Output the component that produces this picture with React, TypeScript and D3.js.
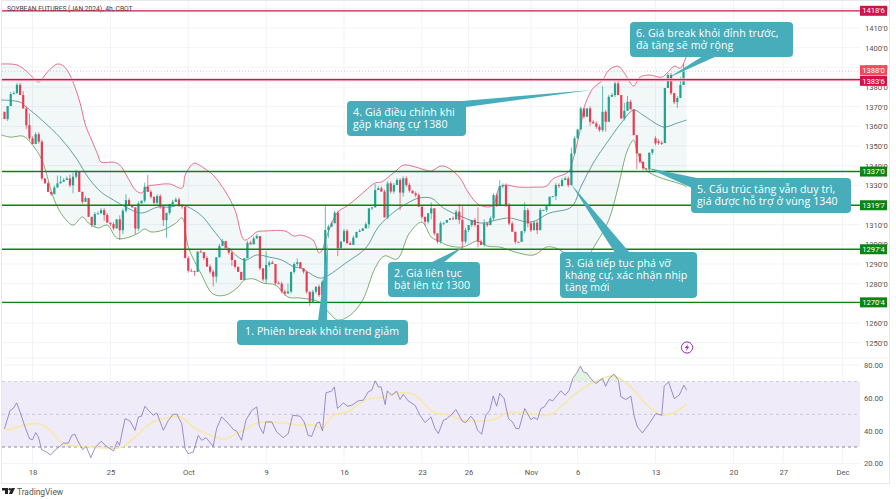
import React, { useEffect, useRef } from 'react';
import * as d3 from 'd3';

// prices in cents, one close per 4h bar
const closes = [
  1363.7, 1370.3, 1376.4, 1376.8, 1381.1, 1375.9, 1369.1, 1360.6, 1353.9, 1351,
  1356, 1352.2, 1333.5, 1331, 1326.7, 1325.5, 1328.9, 1331, 1331.8, 1332.7,
  1333.5, 1330, 1334.4, 1336.9, 1326.7, 1321.6, 1323.5, 1314, 1309.8, 1315.4,
  1315.7, 1317.4, 1314.9, 1311, 1310.3, 1308.1, 1312.7, 1307.2, 1317.1, 1322.5,
  1320, 1318.8, 1308, 1320.8, 1322.2, 1329.3, 1326.7, 1324.2, 1321.1, 1324.5,
  1319.1, 1312.3, 1316, 1320.5, 1321.6, 1322.8, 1320, 1319.1, 1293, 1286.6,
  1286.5, 1286, 1296.3, 1296, 1293, 1288.7, 1286.1, 1283.6, 1293.4, 1299.2,
  1301.7, 1298, 1295.8, 1292, 1288.6, 1286, 1281.9, 1292.9, 1300.8, 1300,
  1303, 1304.2, 1287.8, 1282.2, 1289.5, 1290.7, 1290, 1280.2, 1280, 1276,
  1275, 1276, 1286, 1290, 1290.9, 1287.8, 1286.1, 1275.9, 1270.8, 1275.9,
  1278.5, 1274.2, 1281, 1307.3, 1309, 1310.7, 1316.1, 1298, 1301.4, 1306.8,
  1300.5, 1299.7, 1303.4, 1306.3, 1306.8, 1308.1, 1310.2, 1318.3, 1318.8, 1327.6,
  1328.5, 1326.8, 1313.7, 1331, 1326.8, 1330.2, 1332.7, 1326.3, 1333.6, 1330.2,
  1327.3, 1325.9, 1325, 1319.2, 1314, 1311.5, 1315.8, 1318.3, 1305.6, 1301.4,
  1310.7, 1311, 1312.4, 1313.2, 1312.7, 1316.6, 1312.4, 1301.4, 1307.3, 1309.8,
  1312.4, 1309.8, 1301.4, 1299.7, 1310.7, 1309.8, 1313.2, 1325, 1320, 1329.6,
  1330, 1320, 1310.6, 1306.4, 1301.3, 1301.2, 1306.7, 1317.4, 1310.6, 1307.2,
  1311, 1307.2, 1317.4, 1317.5, 1319.4, 1324.2, 1324.5, 1330.1, 1329.6, 1332.7,
  1333.5, 1330.1, 1346.2, 1353.9, 1358.4, 1369.1, 1364.9, 1369.1, 1362.3, 1361.5,
  1359.8, 1358.1, 1367.4, 1362.3, 1375, 1375.9, 1381.8, 1375.9, 1364, 1367.9,
  1372.5, 1368.6, 1355.5, 1346.2, 1342, 1338.6, 1338.1, 1346.6, 1348.4, 1351.3,
  1351.6, 1351.5, 1379.5, 1386.1, 1376.9, 1372.3, 1374.4, 1381, 1388,
];
// bars that did not open on the previous close
const openGaps: Record<number, number> = { 0: 1367.4, 209: 1353.9, 210: 1352.4 };
const wicksUp = [
  0, 0, 1, 1, 1, 1, 2, 1, 6, 1,
  1, 1, 1, 0, 1, 0, 1, 4, 3, 1,
  1, 2, 2, 1, 0, 0, 1, 0, 0, 1,
  1, 1, 1, 1, 0, 1, 0, 2, 1, 3,
  1, 0, 0, 1, 0, 2, 6, 1, 0, 1,
  1, 1, 0, 0, 1, 1, 1, 0, 0, 1,
  1, 0, 0, 1, 0, 1, 1, 1, 0, 1,
  1, 0, 0, 1, 0, 0, 0, 0, 1, 1,
  1, 1, 0, 0, 7, 1, 1, 0, 1, 1,
  1, 4, 0, 1, 2, 0, 0, 0, 0, 1,
  0, 1, 1, 12, 1, 1, 1, 1, 0, 1,
  1, 1, 1, 0, 1, 0, 1, 0, 0, 3,
  1, 1, 1, 1, 1, 1, 1, 1, 1, 1,
  1, 0, 1, 1, 0, 0, 0, 3, 0, 0,
  1, 0, 0, 0, 1, 1, 4, 7, 1, 0,
  0, 1, 9, 1, 2, 0, 1, 1, 1, 3,
  1, 1, 1, 1, 0, 0, 0, 4, 1, 1,
  1, 1, 1, 0, 0, 0, 0, 1, 1, 1,
  1, 1, 3, 1, 0, 1, 0, 0, 1, 1,
  1, 1, 13, 1, 1, 1, 1, 2, 0, 4,
  3, 1, 0, 0, 0, 0, 0, 0, 0, 1,
  1, 1, 0, 1, 1, 0, 1, 4, 4,
];
const wicksDown = [
  0, 1, 0, 0, 0, 0, 0, 2, 1, 0,
  0, 1, 1, 0, 0, 1, 0, 0, 0, 0,
  0, 1, 4, 1, 0, 1, 0, 0, 1, 1,
  0, 0, 3, 0, 1, 1, 0, 5, 2, 1,
  0, 0, 3, 1, 0, 1, 0, 1, 1, 1,
  1, 3, 9, 1, 1, 0, 1, 1, 0, 1,
  0, 2, 0, 0, 1, 0, 1, 5, 3, 0,
  0, 0, 1, 3, 1, 0, 0, 0, 0, 0,
  0, 0, 1, 1, 2, 1, 0, 1, 0, 1,
  1, 0, 1, 1, 1, 0, 1, 1, 2, 0,
  1, 1, 0, 1, 4, 0, 0, 4, 0, 0,
  0, 0, 0, 0, 0, 0, 0, 2, 1, 0,
  0, 0, 0, 1, 1, 1, 0, 9, 2, 1,
  1, 0, 1, 0, 1, 2, 1, 3, 1, 1,
  1, 1, 0, 0, 0, 0, 2, 4, 1, 1,
  1, 1, 3, 0, 1, 1, 0, 1, 1, 0,
  1, 1, 1, 0, 1, 0, 0, 1, 2, 1,
  0, 2, 0, 0, 1, 0, 0, 2, 1, 0,
  0, 1, 0, 1, 0, 0, 1, 0, 2, 0,
  1, 1, 1, 5, 0, 0, 1, 0, 0, 1,
  0, 0, 0, 8, 1, 1, 0, 1, 1, 1,
  1, 1, 0, 0, 1, 1, 3, 0, 0,
];

// bollinger bands, read at the bends
const upperBars = [-1, 4, 7, 9, 11, 13, 15, 17, 19, 21, 24, 26, 28, 30, 31, 35, 37, 40, 42, 44, 46, 48, 53, 57, 58, 60, 61, 64, 67, 71, 74, 77, 79, 81, 84, 90, 93, 95, 99, 101, 102, 103, 107, 110, 115, 119, 121, 124, 126, 128, 132, 134, 137, 140, 142, 146, 149, 152, 155, 157, 159, 161, 165, 170, 174, 176, 181, 182, 185, 186, 188, 189, 192, 194, 197, 199, 202, 204, 207, 211, 213, 215, 217, 219];
const upperBand = [1391.7, 1391.2, 1388.1, 1385, 1382.5, 1386.1, 1389.6, 1391.7, 1390.6, 1386.1, 1373.4, 1360.6, 1353, 1345.4, 1341.8, 1341.8, 1340.3, 1332.7, 1327.6, 1326.1, 1329.6, 1330.1, 1330.7, 1328.6, 1335.2, 1340.3, 1341.3, 1338.8, 1335.2, 1326.6, 1317.4, 1302.2, 1303.7, 1306.3, 1306.8, 1306.8, 1304.2, 1304.7, 1302.2, 1295.6, 1297.1, 1302.2, 1316.4, 1319.5, 1326.1, 1331.2, 1331.7, 1335.2, 1337.8, 1340.3, 1339.3, 1338.3, 1337.3, 1339.8, 1339.3, 1334.2, 1326.1, 1320.5, 1319, 1320, 1329.1, 1330.1, 1329.1, 1329.1, 1329.6, 1333.2, 1336.8, 1340.3, 1359.6, 1369.3, 1376.9, 1379.5, 1383.5, 1388.6, 1390.6, 1387.1, 1380.5, 1385, 1386.1, 1385, 1387.6, 1390.6, 1389.6, 1396.2];
const middleBars = [-1, 5, 7, 12, 18, 23, 27, 31, 35, 39, 44, 49, 53, 57, 63, 67, 71, 77, 81, 85, 89, 93, 95, 101, 103, 110, 116, 120, 125, 130, 133, 137, 141, 147, 153, 158, 162, 169, 175, 182, 185, 189, 194, 198, 202, 205, 210, 212, 216, 219];
const middleBand = [1373.4, 1372.3, 1369.8, 1363.2, 1354, 1343.9, 1333.7, 1326.6, 1322.5, 1318.9, 1315.9, 1318.9, 1318.9, 1320, 1314.9, 1307.3, 1299.6, 1292, 1294.6, 1293.5, 1292, 1288.5, 1288, 1282.9, 1283.4, 1291, 1298.1, 1308.8, 1316.4, 1321.5, 1323.5, 1323.5, 1318.4, 1313.9, 1310.8, 1312.4, 1313.4, 1311.3, 1315.9, 1319, 1329.1, 1341.3, 1353, 1361.7, 1368.3, 1365.7, 1360.6, 1359.6, 1361.7, 1363.2];
const lowerBars = [-1, 2, 6, 9, 12, 16, 19, 22, 25, 27, 30, 33, 36, 39, 43, 45, 47, 51, 55, 57, 59, 63, 67, 71, 75, 77, 80, 83, 87, 91, 95, 101, 104, 107, 111, 115, 119, 122, 126, 130, 134, 137, 140, 142, 147, 152, 155, 159, 165, 170, 174, 177, 182, 186, 190, 194, 197, 200, 202, 203, 206, 210, 215, 218, 219];
const lowerBand = [1355.6, 1354.5, 1355, 1350.5, 1342.9, 1322.5, 1313.9, 1309.8, 1313.9, 1310.8, 1308.3, 1309.8, 1303.2, 1303.2, 1305.7, 1307.8, 1306.3, 1307.3, 1310.8, 1313.4, 1298.6, 1285.4, 1274.7, 1274.2, 1278.3, 1281.8, 1282.4, 1280.3, 1279.3, 1273.2, 1272.7, 1270.7, 1265.6, 1261.5, 1264, 1271.7, 1288, 1294.1, 1292.5, 1305.7, 1311.3, 1303.7, 1301.2, 1299.6, 1298.6, 1301.7, 1299.1, 1298.6, 1295.6, 1294.6, 1298.6, 1298.1, 1293.5, 1292, 1300.7, 1312.4, 1329.1, 1347.9, 1353, 1347.9, 1337.8, 1334.2, 1331.7, 1330.1, 1329.1];

const rsiBars = [0, 1.8, 2.8, 3.9, 5, 6.6, 8, 9, 10, 10.9, 11.9, 13.5, 14.8, 16.2, 17.8, 18.9, 20.5, 21.6, 22.6, 23.7, 25.1, 26.2, 27.7, 29.1, 31, 32.8, 35, 36.2, 36.9, 38.7, 40.3, 41.9, 43, 44, 45.1, 46.2, 47.8, 48.9, 51, 52.6, 54.2, 55.3, 56.9, 58, 59, 60.6, 62.2, 63.3, 64.7, 67, 68.1, 69.7, 71.9, 73.5, 74.5, 76.1, 77.5, 79.4, 81, 81.8, 83.1, 83.9, 85.8, 87.4, 89.5, 91.1, 92.5, 94.9, 96.2, 97.5, 98.6, 100.2, 101.1, 102.1, 103.2, 105, 105.9, 106.9, 108.8, 110.1, 111.5, 113.6, 115.2, 116.8, 117.9, 119, 120, 120.9, 122.2, 122.9, 124.3, 125.9, 127, 128, 129.6, 131.8, 133.4, 135, 136.9, 138.2, 139.3, 140.9, 142, 143.3, 144.9, 147, 148.1, 149.7, 150.8, 151.9, 153.2, 154.5, 155.8, 156.9, 158, 159, 160.4, 161.8, 163.1, 164.2, 165.2, 167, 169, 170, 171.1, 172.2, 173.3, 174.9, 176, 178.6, 180, 181.3, 182.4, 183.6, 184.9, 185.8, 186.9, 188.2, 189.9, 192, 193, 194.1, 195.7, 197.1, 197.9, 199.5, 201.1, 202.2, 203.2, 204.8, 207, 209.1, 211, 211.8, 213.2, 215, 216.6, 218.1, 219];
const rsiValues = [41.2, 52.4, 53.5, 56.9, 51.4, 42.2, 35.1, 34.5, 38.8, 36.1, 28.4, 26.9, 25.1, 28, 30.4, 32.4, 32.4, 37.1, 37.8, 33.1, 28.4, 30.4, 23.5, 29.6, 33.5, 30.4, 27.6, 33.5, 31, 47.3, 45.9, 40.2, 48.4, 48.8, 54.9, 52.4, 49.4, 50.8, 40.2, 46.3, 50, 50, 44.3, 29, 25.9, 26.9, 37.1, 34.1, 35.7, 30.4, 41.2, 48.4, 44.3, 40.6, 39.8, 34.1, 46.3, 52.4, 54.5, 42.7, 38.2, 45.3, 45.3, 39.2, 35.7, 38.2, 49.4, 48.8, 45.3, 37.1, 36.5, 44.3, 45.3, 39.8, 63.1, 64.1, 66.7, 53.5, 56.9, 54.9, 55.5, 58.2, 58.6, 63.7, 64.7, 70.4, 66.7, 66.7, 55.9, 64.3, 61.6, 64.1, 59, 62.2, 58.2, 55.5, 49.4, 44.9, 48.4, 41.2, 38.2, 46.3, 47.3, 49.4, 52.9, 45.7, 44.9, 48.8, 46.3, 40.2, 37.8, 49.4, 52.4, 61.2, 54.9, 62.7, 59.6, 47.3, 45.3, 41.2, 41.2, 53.5, 46.7, 48, 46.7, 53.5, 54.5, 59, 58.2, 64.3, 61.6, 64.7, 71.8, 74.9, 79.4, 75.9, 75.3, 71.8, 68.8, 71.8, 67.1, 71.8, 74.5, 70.8, 60.6, 59, 61, 48.4, 42.2, 38.6, 44.3, 50.4, 49.4, 67.1, 69.8, 59.6, 61.6, 67.8, 64.7];
const rsiMaBars = [0, 1.8, 5, 10.9, 14.6, 18.9, 25.3, 30.7, 37.1, 41.4, 46.7, 51, 56.3, 61.2, 67, 70.3, 73.5, 76.7, 81, 85.2, 90.6, 94.9, 99.7, 101.8, 105.6, 109.9, 116.3, 121.6, 127, 131.2, 137.7, 143, 147, 152.4, 157.8, 161.5, 168.5, 174.9, 179.2, 183.4, 188.8, 195.7, 201.6, 205.9, 211, 215.5, 218.7];
const rsiMaValues = [41.2, 40.6, 42.7, 44.3, 40.2, 32, 30.4, 29.6, 29.6, 35.1, 44.3, 47.3, 48.4, 41.2, 36.5, 34.7, 37.1, 40.2, 44.7, 45.3, 44.3, 43.3, 43.3, 41.2, 49.4, 51.4, 59, 60.6, 63.1, 62.2, 51.4, 49.4, 46.3, 45.7, 47.3, 51, 50.4, 49.4, 55.5, 62.7, 69.2, 73.3, 65.7, 56.5, 49.4, 51.4, 55.9];

const priceTicks = [1250, 1260, 1270, 1280, 1290, 1300, 1310, 1320, 1330, 1340, 1350, 1360, 1370, 1380, 1390, 1400, 1410, 1420];
// fully behind a level label in the reference
const hiddenTicks = [1270, 1320];
const rsiTicks = [20, 40, 60, 80];
const dateBars = [9, 34, 59, 84, 109, 134, 149, 169, 184, 209, 234, 250, 269];
const dateLabels = ['18', '25', 'Oct', '9', '16', '23', '26', 'Nov', '6', '13', '20', '27', 'Dec'];

// horizontal levels drawn on the chart, with their price label
const greenLevels = [1337, 1319.875, 1297.5, 1270.5];
const greenLabels = ["1337'0", "1319'7", "1297'4", "1270'4"];
const redLevels = [1418.75, 1383.75];
const redLabels = ["1418'6", "1383'6"];
const lastPrice = 1388;

const TEAL = '#47adbb';
const UP = '#1fa48f';
const DOWN = '#ea3d55';
const GREEN = '#0b8416';
const RED = '#d3124a';
const FONT = '"Open Sans", sans-serif';
const AXIS_FONT = 'Roboto, sans-serif';

const x = d3.scaleLinear().domain([0, 269]).range([4.5, 842.4]);
const y = d3.scaleLinear().domain([1410, 1260]).range([28, 323]);
const rsiY = d3.scaleLinear().domain([70, 30]).range([381.5, 447]);

// callout box + wedge pointing at the chart
const callouts = [
  { box: [237, 320, 171, 25], pad: 8, tail: [[328, 243], [327, 321], [318, 321]], lines: ['1. Phiên break khỏi trend giảm'] },
  { box: [388, 262, 92, 35], pad: 6, tail: [[463, 247], [443, 263], [430, 263]], lines: ['2. Giá liên tục', 'bật lên từ 1300'] },
  { box: [560, 252, 137, 46], pad: 5, tail: [[571, 184], [630, 253], [615, 253]], lines: ['3. Giá tiếp tục phá vỡ', 'kháng cự, xác nhận nhịp', 'tăng mới'] },
  { box: [347, 101, 119, 35], pad: 6, tail: [[592, 90], [466, 107], [450, 102]], lines: ['4. Giá điều chỉnh khi', 'gặp kháng cự 1380'] },
  { box: [691, 178, 160, 35], pad: 6, tail: [[648, 168], [702, 179], [692, 188]], lines: ['5. Cấu trúc tăng vẫn duy trì,', 'giá được hỗ trợ ở vùng 1340'] },
  { box: [630, 22, 163, 35], pad: 6, tail: [[668, 78], [717, 56], [703, 56]], lines: ['6. Giá break khỏi đỉnh trước,', 'đà tăng sẽ mở rộng'] },
];

function App() {
  const ref = useRef<any>(null);

  useEffect(() => {
    const svg = d3.select(ref.current);
    svg.selectAll('*').remove();

    // background grid
    const grid = svg.append('g').attr('stroke', '#f0f3f8').attr('stroke-width', 1);
    dateBars.forEach((b) => {
      grid.append('line').attr('x1', x(b)).attr('x2', x(b)).attr('y1', 1).attr('y2', 463);
    });
    priceTicks.forEach((t) => {
      grid.append('line').attr('x1', 2).attr('x2', 860).attr('y1', y(t)).attr('y2', y(t));
    });
    rsiTicks.forEach((t) => {
      grid.append('line').attr('x1', 2).attr('x2', 860).attr('y1', rsiY(t)).attr('y2', rsiY(t));
    });

    // frame
    const frame = svg.append('g').attr('stroke', '#e6e9ef').attr('fill', 'none');
    frame.append('rect').attr('x', 1.5).attr('y', 0.5).attr('width', 888).attr('height', 483);
    frame.append('line').attr('x1', 2).attr('x2', 890).attr('y1', 358).attr('y2', 358).attr('stroke', '#f0f3f8');

    // bollinger bands
    const bandPts = (bars: number[], vals: number[]) => bars.map((b, i) => [x(b), y(vals[i])] as [number, number]);
    const line = d3.line().curve(d3.curveCatmullRom);
    const up = bandPts(upperBars, upperBand);
    const mid = bandPts(middleBars, middleBand);
    const low = bandPts(lowerBars, lowerBand);
    const loop = (line(up) as string) + 'L' + (line(low.slice().reverse()) as string).slice(1) + 'Z';
    svg.append('path').attr('d', loop).attr('fill', '#3a8a9c').attr('fill-opacity', 0.065);
    svg.append('path').attr('d', line(up)).attr('fill', 'none').attr('stroke', '#e64d6c').attr('stroke-width', 0.8);
    svg.append('path').attr('d', line(mid)).attr('fill', 'none').attr('stroke', '#3f8a8c').attr('stroke-width', 0.8);
    svg.append('path').attr('d', line(low)).attr('fill', 'none').attr('stroke', '#5f9a4c').attr('stroke-width', 0.8);

    // candles
    const candles = svg.append('g');
    closes.forEach((c, i) => {
      const o = openGaps[i] ?? closes[i - 1];
      const top = Math.max(o, c);
      const bot = Math.min(o, c);
      const col = c >= o ? UP : DOWN;
      candles
        .append('line')
        .attr('x1', x(i))
        .attr('x2', x(i))
        .attr('y1', y(top + wicksUp[i]))
        .attr('y2', y(bot - wicksDown[i]))
        .attr('stroke', col)
        .attr('stroke-width', 0.7);
      candles
        .append('rect')
        .attr('x', x(i) - 1.1)
        .attr('width', 2.2)
        .attr('y', y(top))
        .attr('height', Math.max(1, y(bot) - y(top)))
        .attr('fill', col);
    });

    // levels
    svg
      .append('line')
      .attr('x1', 2)
      .attr('x2', 860)
      .attr('y1', y(lastPrice))
      .attr('y2', y(lastPrice))
      .attr('stroke', '#f2a0ac')
      .attr('stroke-width', 0.7)
      .attr('stroke-dasharray', '1 2');
    svg.append('line').attr('x1', 2).attr('x2', 860).attr('y1', y(1383.75)).attr('y2', y(1383.75)).attr('stroke', '#f6c0cc').attr('stroke-width', 3);
    redLevels.forEach((v) => {
      svg.append('line').attr('x1', 2).attr('x2', 860).attr('y1', y(v)).attr('y2', y(v)).attr('stroke', RED).attr('stroke-width', 1.2);
    });
    greenLevels.forEach((v) => {
      svg.append('line').attr('x1', 2).attr('x2', 860).attr('y1', y(v)).attr('y2', y(v)).attr('stroke', GREEN).attr('stroke-width', 1.4);
    });

    // callouts
    callouts.forEach((c) => {
      const g = svg.append('g');
      g.append('polygon').attr('points', c.tail.map((p) => p.join(',')).join(' ')).attr('fill', TEAL);
      g.append('rect')
        .attr('x', c.box[0])
        .attr('y', c.box[1])
        .attr('width', c.box[2])
        .attr('height', c.box[3])
        .attr('rx', 4)
        .attr('fill', TEAL);
      c.lines.forEach((t, i) => {
        g.append('text')
          .attr('x', c.box[0] + c.pad)
          .attr('y', c.box[1] + 14.5 + i * 12)
          .attr('fill', '#fff')
          .attr('font-family', FONT)
          .attr('font-size', 10.6)
          .attr('letter-spacing', 0.1)
          .text(t);
      });
    });

    // title
    svg
      .append('text')
      .attr('x', 7)
      .attr('y', 11)
      .attr('font-family', AXIS_FONT)
      .attr('font-size', 6.7)
      .attr('fill', '#444')
      .text('SOYBEAN FUTURES (JAN 2024), 4h, CBOT');

    // rsi pane
    svg.append('rect').attr('x', 2).attr('width', 858).attr('y', rsiY(70)).attr('height', rsiY(30) - rsiY(70)).attr('fill', '#efebf8');
    [70, 50, 30].forEach((v) => {
      svg
        .append('line')
        .attr('x1', 2)
        .attr('x2', 860)
        .attr('y1', rsiY(v))
        .attr('y2', rsiY(v))
        .attr('stroke', v === 30 ? '#6a6a78' : '#c4bcd8')
        .attr('stroke-width', 0.8)
        .attr('stroke-dasharray', '3 3');
    });
    const rsiLine = d3
      .line<number>()
      .x((b) => x(b))
      .y((_, i) => rsiY(rsiValues[i]));
    const maLine = d3
      .line<number>()
      .x((b) => x(b))
      .y((_, i) => rsiY(rsiMaValues[i]))
      .curve(d3.curveCatmullRom);
    // overbought tint
    svg
      .append('clipPath')
      .attr('id', 'ob')
      .append('rect')
      .attr('x', 2)
      .attr('width', 858)
      .attr('y', 340)
      .attr('height', rsiY(70) - 340);
    svg
      .append('path')
      .attr('clip-path', 'url(#ob)')
      .attr(
        'd',
        d3
          .area<number>()
          .x((b) => x(b))
          .y0(rsiY(70))
          .y1((_, i) => rsiY(rsiValues[i]))(rsiBars)
      )
      .attr('fill', '#e2f3e2');
    svg.append('path').attr('d', maLine(rsiMaBars)).attr('fill', 'none').attr('stroke', '#f6e9a8').attr('stroke-width', 1.6);
    svg.append('path').attr('d', rsiLine(rsiBars)).attr('fill', 'none').attr('stroke', '#8672c0').attr('stroke-width', 0.8);

    // price axis
    const priceAxis = svg
      .append('g')
      .attr('transform', 'translate(860,0)')
      .call(
        d3
          .axisRight(y)
          .tickValues(priceTicks.filter((t) => !hiddenTicks.includes(t)))
          .tickSize(0)
          .tickPadding(5)
          .tickFormat((d: any) => `${d}'0`)
      );
    const rsiAxis = svg
      .append('g')
      .attr('transform', 'translate(860,0)')
      .call(
        d3
          .axisRight(rsiY)
          .tickValues(rsiTicks)
          .tickSize(0)
          .tickPadding(4)
          .tickFormat((d: any) => d3.format('.2f')(d))
      );
    const dateAxis = svg
      .append('g')
      .attr('transform', 'translate(0,467)')
      .call(
        d3
          .axisBottom(x)
          .tickValues(dateBars)
          .tickSize(0)
          .tickPadding(3)
          .tickFormat((_: any, i: number) => dateLabels[i])
      );
    [priceAxis, rsiAxis, dateAxis].forEach((a) => {
      a.select('.domain').remove();
      a.selectAll('text').attr('font-family', AXIS_FONT).attr('font-size', 7.6).attr('fill', '#555');
    });

    // price badges, the two close ones stacked like the platform does
    const badge = (cy: number, label: string, col: string) => {
      svg.append('rect').attr('x', 860).attr('y', cy - 5).attr('width', 27).attr('height', 10).attr('fill', col);
      svg
        .append('text')
        .attr('x', 873.5)
        .attr('y', cy + 2.7)
        .attr('text-anchor', 'middle')
        .attr('font-family', AXIS_FONT)
        .attr('font-size', 7.6)
        .attr('fill', '#fff')
        .text(label);
    };
    badge(y(lastPrice) - 1, "1388'0", '#f2495e');
    badge(y(redLevels[0]), redLabels[0], RED);
    badge(y(redLevels[1]) + 1.2, redLabels[1], RED);
    greenLevels.forEach((v, i) => badge(y(v), greenLabels[i], GREEN));

    // lightning marker
    const bolt = svg.append('g').attr('transform', 'translate(687,347.5)');
    bolt.append('circle').attr('r', 5.6).attr('fill', '#fff').attr('stroke', '#9c27b0').attr('stroke-width', 1);
    bolt.append('path').attr('d', 'M1,-3.6 L-2.2,0.6 L-0.2,0.6 L-1,3.6 L2.2,-0.8 L0.2,-0.8 Z').attr('fill', '#9c27b0');

    // logo
    const logo = svg.append('g').attr('transform', 'translate(2,488)').attr('fill', '#222');
    logo.append('path').attr('d', 'M0,0 H6 V6 H3 V2.6 H0 Z');
    logo.append('circle').attr('cx', 7.8).attr('cy', 1.3).attr('r', 1.3);
    logo.append('path').attr('d', 'M9.6,0 H13 L10.2,6 H6.8 Z');
    svg
      .append('text')
      .attr('x', 17)
      .attr('y', 495)
      .attr('font-family', AXIS_FONT)
      .attr('font-size', 8.4)
      .attr('fill', '#555')
      .text('TradingView');
  }, []);

  return <svg ref={ref} width={896} height={499} style={{ position: 'absolute', left: 0, top: 0, background: '#fff' }} />;
}

export default App;
